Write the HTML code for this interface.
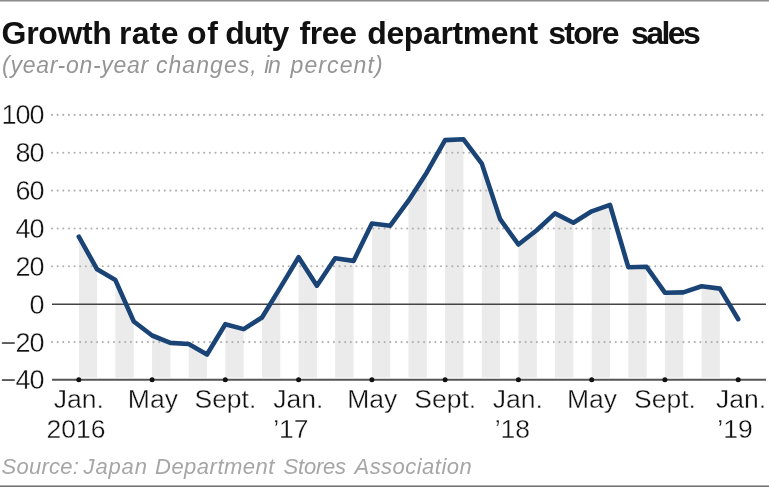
<!DOCTYPE html>
<html><head><meta charset="utf-8"><style>
html,body{margin:0;padding:0;background:#fff;}
body{width:769px;height:487px;overflow:hidden;position:relative;font-family:"Liberation Sans",sans-serif;}
svg{position:absolute;left:0;top:0;will-change:transform;}
</style></head><body>
<svg width="769" height="487" viewBox="0 0 769 487">
<rect x="0" y="0" width="769" height="1" fill="#8c8c8c"/>
<rect x="0" y="1" width="769" height="1" fill="#c4c4c4"/>
<rect x="0" y="485" width="769" height="1" fill="#b0b0b0"/>
<rect x="0" y="486" width="769" height="1" fill="#707070"/>
<text x="1.60" y="43.5" letter-spacing="-0.340" font-family="Liberation Sans" font-weight="bold" font-size="32" fill="#111">Growth</text>
<text x="119.00" y="43.5" letter-spacing="0.267" font-family="Liberation Sans" font-weight="bold" font-size="32" fill="#111">rate</text>
<text x="187.00" y="43.5" letter-spacing="0.800" font-family="Liberation Sans" font-weight="bold" font-size="32" fill="#111">of</text>
<text x="225.30" y="43.5" letter-spacing="-1.200" font-family="Liberation Sans" font-weight="bold" font-size="32" fill="#111">duty</text>
<text x="299.40" y="43.5" letter-spacing="-0.367" font-family="Liberation Sans" font-weight="bold" font-size="32" fill="#111">free</text>
<text x="367.30" y="43.5" letter-spacing="-0.389" font-family="Liberation Sans" font-weight="bold" font-size="32" fill="#111">department</text>
<text x="548.20" y="43.5" letter-spacing="-1.700" font-family="Liberation Sans" font-weight="bold" font-size="32" fill="#111">store</text>
<text x="631.00" y="43.5" letter-spacing="-2.550" font-family="Liberation Sans" font-weight="bold" font-size="32" fill="#111">sales</text>
<text x="2.10" y="73.0" letter-spacing="0.700" font-family="Liberation Sans" font-style="italic" font-size="23" fill="#959595">(year-on-year</text>
<text x="155.90" y="73.0" letter-spacing="1.071" font-family="Liberation Sans" font-style="italic" font-size="23" fill="#959595">changes,</text>
<text x="264.20" y="73.0" letter-spacing="-1.400" font-family="Liberation Sans" font-style="italic" font-size="23" fill="#959595">in</text>
<text x="290.50" y="73.0" letter-spacing="1.114" font-family="Liberation Sans" font-style="italic" font-size="23" fill="#959595">percent)</text>
<text x="1.50" y="474.0" letter-spacing="0.250" font-family="Liberation Sans" font-style="italic" font-size="22" fill="#a6a6a6">Source:</text>
<text x="83.60" y="474.0" letter-spacing="0.850" font-family="Liberation Sans" font-style="italic" font-size="22" fill="#a6a6a6">Japan</text>
<text x="155.00" y="474.0" letter-spacing="0.500" font-family="Liberation Sans" font-style="italic" font-size="22" fill="#a6a6a6">Department</text>
<text x="283.60" y="474.0" letter-spacing="-0.240" font-family="Liberation Sans" font-style="italic" font-size="22" fill="#a6a6a6">Stores</text>
<text x="354.50" y="474.0" letter-spacing="0.470" font-family="Liberation Sans" font-style="italic" font-size="22" fill="#a6a6a6">Association</text>
<defs><clipPath id="c"><path d="M78.8 236.7 L97.1 269.3 L115.4 280.1 L133.8 321.5 L152.1 335.5 L170.4 342.9 L188.7 344.0 L207.0 354.5 L225.3 324.2 L243.7 329.1 L262.0 317.5 L280.3 287.6 L298.6 257.2 L316.9 285.7 L335.2 258.3 L353.6 260.9 L371.9 223.5 L390.2 225.7 L408.5 200.7 L426.8 172.4 L445.1 140.1 L463.5 139.3 L481.8 163.6 L500.1 219.1 L518.4 244.5 L536.7 230.3 L555.0 213.4 L573.4 222.7 L591.7 211.3 L610.0 204.9 L628.3 267.2 L646.6 266.8 L664.9 292.7 L683.3 292.4 L701.6 286.3 L719.9 288.6 L738.2 319.2 L738.2 377.8 L78.8 377.8 Z"/></clipPath></defs>
<g clip-path="url(#c)" fill="#ebebeb"><rect x="78.80" y="100" width="18.32" height="277.8"/><rect x="115.43" y="100" width="18.32" height="277.8"/><rect x="152.07" y="100" width="18.32" height="277.8"/><rect x="188.70" y="100" width="18.32" height="277.8"/><rect x="225.33" y="100" width="18.32" height="277.8"/><rect x="261.97" y="100" width="18.32" height="277.8"/><rect x="298.60" y="100" width="18.32" height="277.8"/><rect x="335.23" y="100" width="18.32" height="277.8"/><rect x="371.87" y="100" width="18.32" height="277.8"/><rect x="408.50" y="100" width="18.32" height="277.8"/><rect x="445.13" y="100" width="18.32" height="277.8"/><rect x="481.77" y="100" width="18.32" height="277.8"/><rect x="518.40" y="100" width="18.32" height="277.8"/><rect x="555.03" y="100" width="18.32" height="277.8"/><rect x="591.67" y="100" width="18.32" height="277.8"/><rect x="628.30" y="100" width="18.32" height="277.8"/><rect x="664.93" y="100" width="18.32" height="277.8"/><rect x="701.57" y="100" width="18.32" height="277.8"/></g>
<g stroke="#b0b0b0" stroke-width="2.1" stroke-dasharray="0 5.638" stroke-linecap="round"><line x1="52.0" y1="114.9" x2="763" y2="114.9"/><line x1="52.0" y1="152.8" x2="763" y2="152.8"/><line x1="52.0" y1="190.6" x2="763" y2="190.6"/><line x1="52.0" y1="228.5" x2="763" y2="228.5"/><line x1="52.0" y1="266.3" x2="763" y2="266.3"/><line x1="52.0" y1="342.1" x2="763" y2="342.1"/></g>
<line x1="52" y1="304.2" x2="766" y2="304.2" stroke="#444" stroke-width="1.5"/>
<line x1="52" y1="379.8" x2="766" y2="379.8" stroke="#555" stroke-width="2"/>
<g fill="#111"><circle cx="78.8" cy="379.8" r="2.5"/><circle cx="152.1" cy="379.8" r="2.5"/><circle cx="225.3" cy="379.8" r="2.5"/><circle cx="298.6" cy="379.8" r="2.5"/><circle cx="371.9" cy="379.8" r="2.5"/><circle cx="445.1" cy="379.8" r="2.5"/><circle cx="518.4" cy="379.8" r="2.5"/><circle cx="591.7" cy="379.8" r="2.5"/><circle cx="664.9" cy="379.8" r="2.5"/><circle cx="738.2" cy="379.8" r="2.5"/></g>
<path d="M78.8 236.7 L97.1 269.3 L115.4 280.1 L133.8 321.5 L152.1 335.5 L170.4 342.9 L188.7 344.0 L207.0 354.5 L225.3 324.2 L243.7 329.1 L262.0 317.5 L280.3 287.6 L298.6 257.2 L316.9 285.7 L335.2 258.3 L353.6 260.9 L371.9 223.5 L390.2 225.7 L408.5 200.7 L426.8 172.4 L445.1 140.1 L463.5 139.3 L481.8 163.6 L500.1 219.1 L518.4 244.5 L536.7 230.3 L555.0 213.4 L573.4 222.7 L591.7 211.3 L610.0 204.9 L628.3 267.2 L646.6 266.8 L664.9 292.7 L683.3 292.4 L701.6 286.3 L719.9 288.6 L738.2 319.2" fill="none" stroke="#1a4475" stroke-width="4.6" stroke-linejoin="round" stroke-linecap="round"/>
<g font-family="Liberation Sans" font-size="27" letter-spacing="-1" fill="#111" stroke="#fff" stroke-width="0.35" text-anchor="end"><text x="43.5" y="124.4">100</text><text x="43.5" y="162.3">80</text><text x="43.5" y="200.1">60</text><text x="43.5" y="238.0">40</text><text x="43.5" y="275.8">20</text><text x="43.5" y="313.7">0</text><text x="43.5" y="351.6">−20</text><text x="43.5" y="389.4">−40</text></g>
<g font-family="Liberation Sans" font-size="26.5" fill="#111" stroke="#fff" stroke-width="0.35" text-anchor="middle"><text x="78.8" y="408.0">Jan.</text><text x="76.1" y="437.5">2016</text><text x="152.9" y="408.0">May</text><text x="225.4" y="408.0">Sept.</text><text x="298.4" y="408.0">Jan.</text><text x="290.9" y="437.5">’17</text><text x="372.2" y="408.0">May</text><text x="445.2" y="408.0">Sept.</text><text x="517.8" y="408.0">Jan.</text><text x="512.4" y="437.5">’18</text><text x="592.1" y="408.0">May</text><text x="665.0" y="408.0">Sept.</text><text x="741.0" y="408.0">Jan.</text><text x="735.0" y="437.5">’19</text></g>
</svg>
</body></html>
